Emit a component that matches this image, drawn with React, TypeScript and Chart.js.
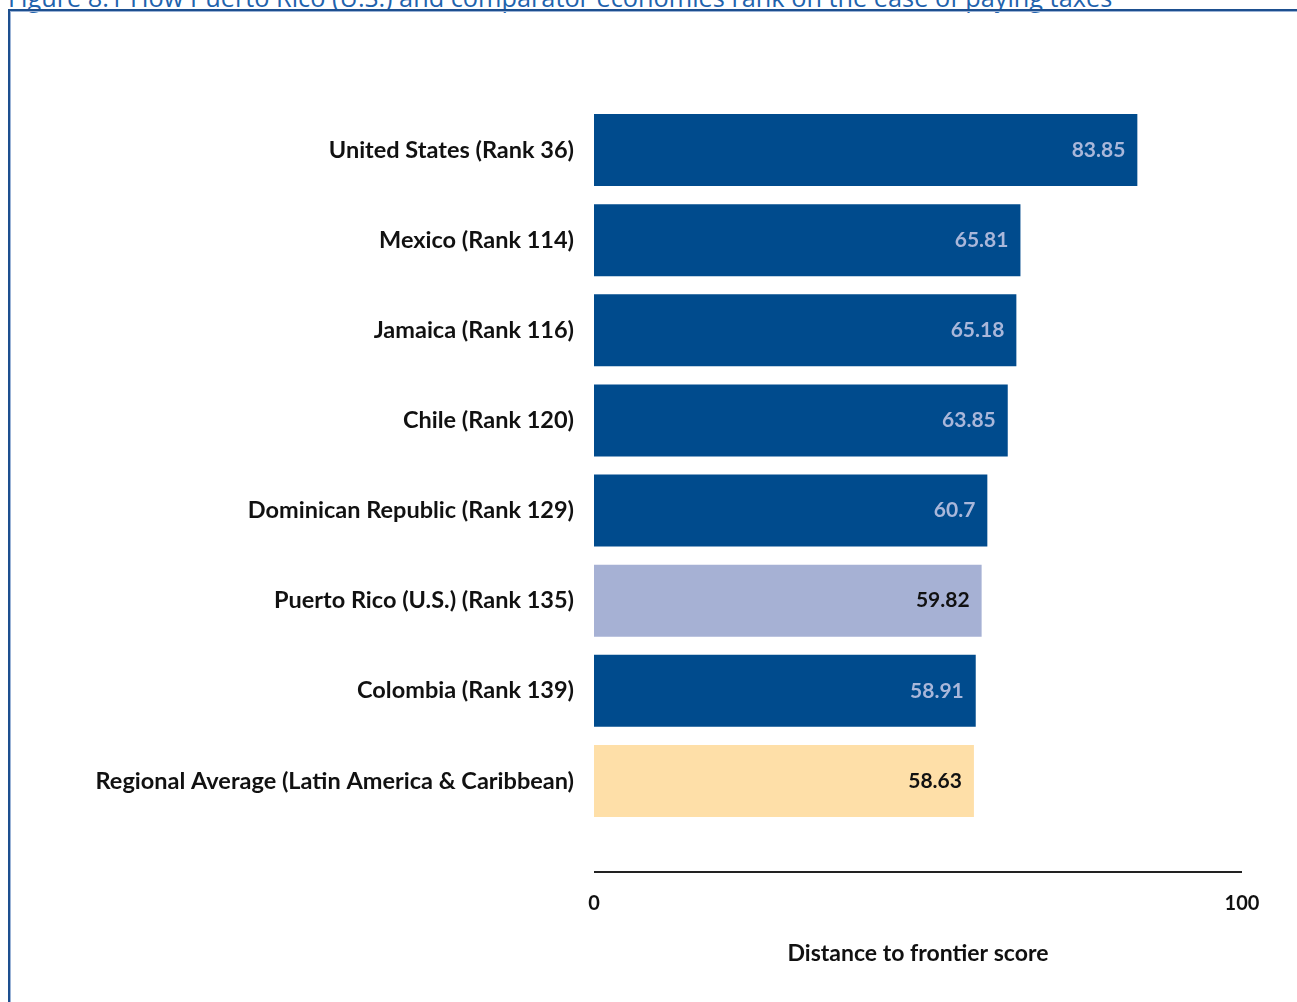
import React, { useEffect, useRef } from "react";
import { Chart, registerables } from "chart.js";

Chart.register(...registerables);

const categories = [
  "United States (Rank 36)",
  "Mexico (Rank 114)",
  "Jamaica (Rank 116)",
  "Chile (Rank 120)",
  "Dominican Republic (Rank 129)",
  "Puerto Rico (U.S.) (Rank 135)",
  "Colombia (Rank 139)",
  "Regional Average (Latin America & Caribbean)",
];
const scores = [83.85, 65.81, 65.18, 63.85, 60.7, 59.82, 58.91, 58.63];
const scoreLabels = ["83.85", "65.81", "65.18", "63.85", "60.7", "59.82", "58.91", "58.63"];
const barColors = ["#004b8d", "#004b8d", "#004b8d", "#004b8d", "#004b8d", "#a6b1d4", "#004b8d", "#fedfa8"];
const labelColors = ["#a9b7da", "#a9b7da", "#a9b7da", "#a9b7da", "#a9b7da", "#111111", "#a9b7da", "#111111"];
const xTickValues = [0, 100];

const TITLE = "Figure 8.1 How Puerto Rico (U.S.) and comparator economies rank on the ease of paying taxes";
const FONT = "Lato, 'Noto Sans', sans-serif";

const overlayPlugin = {
  id: "overlay",
  afterDatasetsDraw(chart: any) {
    const ctx = chart.ctx;
    const meta = chart.getDatasetMeta(0);
    ctx.save();
    ctx.font = `bold 21px ${FONT}`;
    ctx.textAlign = "right";
    ctx.textBaseline = "middle";
    meta.data.forEach((bar: any, i: number) => {
      ctx.fillStyle = labelColors[i];
      ctx.fillText(scoreLabels[i], bar.x - 12, bar.y);
    });
    const xs = chart.scales.x;
    const y = xs.top + 46;
    ctx.strokeStyle = "#222222";
    ctx.lineWidth = 2;
    ctx.beginPath();
    ctx.moveTo(xs.getPixelForValue(0), y);
    ctx.lineTo(xs.getPixelForValue(100), y);
    ctx.stroke();
    ctx.restore();
  },
};

export default function App() {
  const ref = useRef<HTMLCanvasElement>(null);
  useEffect(() => {
    const chart = new Chart(ref.current as HTMLCanvasElement, {
      type: "bar",
      data: {
        labels: categories,
        datasets: [
          {
            data: scores,
            backgroundColor: barColors,
            borderWidth: 0,
            barPercentage: 0.8,
            categoryPercentage: 1,
          },
        ],
      },
      plugins: [overlayPlugin],
      options: {
        indexAxis: "y",
        animation: false,
        responsive: false,
        maintainAspectRatio: false,
        layout: { padding: { left: 0, right: 55, top: 105, bottom: 0 } },
        plugins: { legend: { display: false }, tooltip: { enabled: false } },
        scales: {
          y: {
            grid: { display: false, drawTicks: false },
            border: { display: false },
            ticks: {
              color: "#111111",
              font: { family: FONT, size: 23.5, weight: "bold" },
              padding: 20,
            },
            afterFit: (s: any) => {
              s.width = 594;
              s.paddingTop = 0;
              s.paddingBottom = 0;
            },
          },
          x: {
            min: 0,
            max: 100,
            grid: { display: false, drawTicks: false },
            border: { display: false },
            afterBuildTicks: (s: any) => {
              s.ticks = xTickValues.map((v) => ({ value: v }));
            },
            ticks: {
              color: "#111111",
              font: { family: FONT, size: 20, weight: "bold" },
              padding: 66,
            },
            title: {
              display: true,
              text: "Distance to frontier score",
              color: "#111111",
              font: { family: FONT, size: 23, weight: "bold" },
              padding: { top: 0, bottom: 35 },
            },
            afterFit: (s: any) => {
              s.height = 176;
              s.paddingLeft = 0;
              s.paddingRight = 0;
            },
          },
        },
      },
    });
    return () => chart.destroy();
  }, []);

  return (
    <div style={{ position: "fixed", left: 0, top: 0, width: 1297, height: 1002, overflow: "hidden", background: "#ffffff" }}>
      <div
        style={{
          position: "absolute",
          left: 8,
          top: -15,
          fontFamily: "'Open Sans', sans-serif",
          fontSize: 25.3,
          lineHeight: "24px",
          color: "#1f63ad",
          whiteSpace: "nowrap",
        }}
      >
        {TITLE}
      </div>
      <div
        style={{
          position: "absolute",
          left: 8,
          top: 9,
          width: 1400,
          height: 1100,
          borderTop: "2px solid #1d4f8f",
          borderLeft: "2px solid #1d4f8f",
          boxShadow: "inset 1px 1px 0 #9bb3d6",
        }}
      />
      <canvas ref={ref} width={1297} height={1002} style={{ position: "absolute", left: 0, top: 0 }} />
    </div>
  );
}
